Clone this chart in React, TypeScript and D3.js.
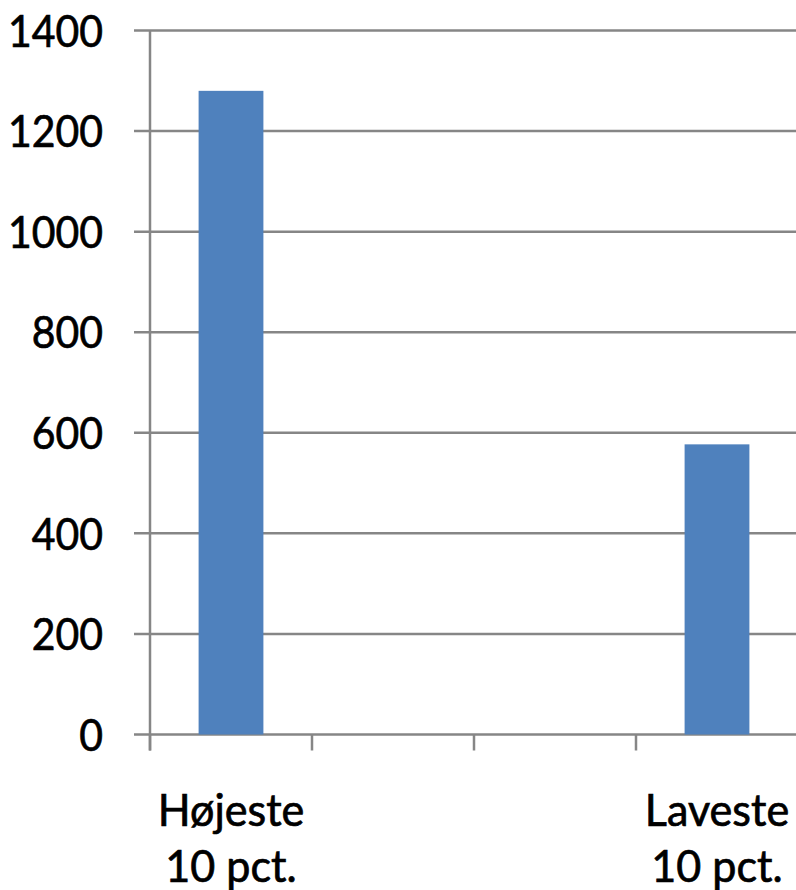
import React from 'react';
import * as d3 from 'd3';

const categories = ['0', '1', '2', '3'];
const labels = [['Højeste', '10 pct.'], [], [], ['Laveste', '10 pct.']];
const values: (number | null)[] = [1280, null, null, 577];
const yTicks = [0, 200, 400, 600, 800, 1000, 1200, 1400];

const W = 796;
const H = 890;
const left = 150;
const right = 798;
const top = 30.5;
const bottom = 734.5;

export default function App() {
  const x = d3.scaleBand().domain(categories).range([left, right]).paddingInner(0.6).paddingOuter(0.3);
  const xb = d3.scaleBand().domain(categories).range([left, right]);
  const y = d3.scaleLinear().domain([0, 1400]).range([bottom, top]);
  const grid = '#868686';
  const font = 'Lato, "DejaVu Sans", sans-serif';

  return (
    <div style={{ position: 'absolute', left: 0, top: 0 }}>
      <svg width={W} height={H} style={{ display: 'block', background: '#fff' }}>
        {yTicks.map((t) => (
          <line key={t} x1={134} x2={W} y1={y(t)} y2={y(t)} stroke={grid} strokeWidth={2.5} />
        ))}
        <line x1={left} x2={left} y1={top} y2={bottom + 16} stroke={grid} strokeWidth={2.5} />
        {categories.map((c) => (
          <line key={c} x1={xb(c)!} x2={xb(c)!} y1={bottom} y2={bottom + 16} stroke={grid} strokeWidth={2.5} />
        ))}
        {categories.map((c, i) =>
          values[i] == null ? null : (
            <rect
              key={c}
              x={x(c)!}
              y={y(values[i] as number)}
              width={x.bandwidth()}
              height={bottom - y(values[i] as number)}
              fill="#4F81BD"
            />
          )
        )}
        {yTicks.map((t) => (
          <g key={t} transform={`translate(103,${y(t)}) scale(0.93,1.02)`}>
            <text
              textAnchor="end"
              dy="0.36em"
              fontFamily={font}
              fontSize={44}
              fill="#000"
              stroke="#000"
              strokeWidth={0.7}
            >
              {t}
            </text>
          </g>
        ))}
        {categories.map((c, i) =>
          labels[i].map((s, j) => (
            <g key={c + j} transform={`translate(${xb(c)! + xb.bandwidth() / 2},${826 + j * 56}) scale(0.98,1.02)`}>
              <text
                textAnchor="middle"
                fontFamily={font}
                fontSize={44}
                fill="#000"
                stroke="#000"
                strokeWidth={0.7}
              >
                {s}
              </text>
            </g>
          ))
        )}
      </svg>
    </div>
  );
}
